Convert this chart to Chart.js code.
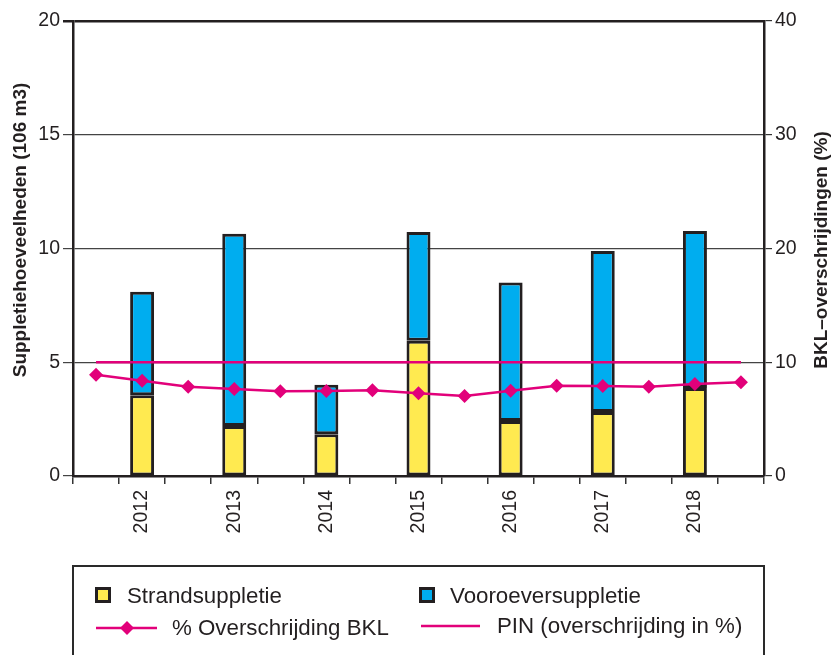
<!DOCTYPE html>
<html>
<head>
<meta charset="utf-8">
<script src="https://cdn.jsdelivr.net/npm/chart.js@4/dist/chart.umd.min.js"></script>
<style>
html,body{margin:0;padding:0;background:#fff;}
#wrap{position:relative;width:835px;height:655px;overflow:hidden;}
#c{position:absolute;left:0;top:0;}
#legend{position:absolute;left:72px;top:565px;width:689px;height:140px;border:2px solid #2a2a2a;
  font-family:"Liberation Sans",Arial,sans-serif;font-size:22.3px;color:#231f20;}
#legend .t{position:absolute;line-height:24px;white-space:nowrap;}
#legend svg{position:absolute;overflow:visible;}
</style>
</head>
<body>
<div id="wrap">
  <canvas id="c" width="835" height="655"></canvas>
  <div id="legend">
    <svg style="left:21px;top:20px" width="16" height="16"><rect x="1.5" y="1.5" width="13" height="13" fill="#FFEA50" stroke="#231f20" stroke-width="3"/></svg>
    <span class="t" style="left:53px;top:17px">Strandsuppletie</span>
    <svg style="left:345px;top:20px" width="16" height="16"><rect x="1.5" y="1.5" width="13" height="13" fill="#00ADEF" stroke="#231f20" stroke-width="3"/></svg>
    <span class="t" style="left:376px;top:17px">Vooroeversuppletie</span>
    <svg style="left:22px;top:52px" width="62" height="18"><line x1="0" y1="9" x2="61" y2="9" stroke="#E2007A" stroke-width="2.5"/><polygon points="31,2 38,9 31,16 24,9" fill="#E2007A"/></svg>
    <span class="t" style="left:98px;top:49px">% Overschrijding BKL</span>
    <svg style="left:347px;top:50px" width="60" height="18"><line x1="0" y1="9" x2="59" y2="9" stroke="#E2007A" stroke-width="2.5"/></svg>
    <span class="t" style="left:423px;top:47px">PIN (overschrijding in %)</span>
  </div>
</div>
<script>
// ---- data ----
const categories = ['', '2012', '', '2013', '', '2014', '', '2015', '', '2016', '', '2017', '', '2018', ''];
const strandValues = [null, 3.55, null, 2.2, null, 1.83, null, 5.95, null, 2.42, null, 2.81, null, 3.87, null];
const vooroeverValues = [null, 4.55, null, 8.45, null, 2.18, null, 4.77, null, 6.09, null, 7.08, null, 6.9, null];
const bklValues = [8.9, 8.38, 7.85, 7.65, 7.44, 7.47, 7.53, 7.27, 7.03, 7.5, 7.94, 7.91, 7.85, 8.09, 8.24];
const pinValues = [10, 10, 10, 10, 10, 10, 10, 10, 10, 10, 10, 10, 10, 10, 10];
const leftTicks = [0, 5, 10, 15, 20];
const rightTicks = [0, 10, 20, 30, 40];
const leftTitle = 'Suppletiehoeveelheden (106 m3)';
const rightTitle = 'BKL\u2013overschrijdingen (%)';

const FONT = '"Liberation Sans", Arial, sans-serif';
const INK = '#231f20';
const MAGENTA = '#E2007A';
Chart.defaults.font.family = FONT;
Chart.defaults.color = INK;

const titlePlugin = {
  id: 'axisTitles',
  afterDraw(chart) {
    const ctx = chart.ctx;
    ctx.save();
    ctx.font = 'bold 19px ' + FONT;
    ctx.fillStyle = INK;
    ctx.textAlign = 'center';
    ctx.textBaseline = 'middle';
    ctx.translate(21, 230);
    ctx.rotate(-Math.PI / 2);
    ctx.fillText(leftTitle, 0, 0);
    ctx.restore();
    ctx.save();
    ctx.font = 'bold 19px ' + FONT;
    ctx.fillStyle = INK;
    ctx.textAlign = 'center';
    ctx.textBaseline = 'middle';
    ctx.translate(822, 250);
    ctx.rotate(-Math.PI / 2);
    ctx.fillText(rightTitle, 0, 0);
    ctx.restore();
  }
};

new Chart(document.getElementById('c'), {
  type: 'bar',
  data: {
    labels: categories,
    datasets: [
      {
        type: 'line', label: '% Overschrijding BKL', data: bklValues, yAxisID: 'y1', order: 0,
        borderColor: MAGENTA, borderWidth: 2.5, backgroundColor: MAGENTA,
        pointStyle: 'rectRot', pointRadius: 7, pointBorderWidth: 0, pointBackgroundColor: MAGENTA,
        tension: 0, fill: false
      },
      {
        type: 'line', label: 'PIN (overschrijding in %)', data: pinValues, yAxisID: 'y1', order: 1,
        borderColor: MAGENTA, borderWidth: 2.5, pointRadius: 0, tension: 0, fill: false
      },
      {
        label: 'Strandsuppletie', data: strandValues, yAxisID: 'y', order: 2, stack: 's',
        backgroundColor: '#FFEA50', borderColor: INK, borderWidth: 3, borderSkipped: false,
        barPercentage: 0.52, categoryPercentage: 1
      },
      {
        label: 'Vooroeversuppletie', data: vooroeverValues, yAxisID: 'y', order: 2, stack: 's',
        backgroundColor: '#00ADEF', borderColor: INK, borderWidth: 3, borderSkipped: false,
        barPercentage: 0.52, categoryPercentage: 1
      }
    ]
  },
  options: {
    responsive: false,
    animation: false,
    layout: { padding: { top: 21, bottom: 95, left: 0, right: 0 } },
    plugins: { legend: { display: false }, tooltip: { enabled: false } },
    scales: {
      x: {
        stacked: true,
        offset: true,
        grid: { drawOnChartArea: false, offset: true, tickLength: 8, color: '#333', lineWidth: 1.5 },
        border: { display: true, color: INK, width: 2.5 },
        ticks: { autoSkip: false, minRotation: 90, maxRotation: 90, padding: 6,
          font: { size: 19.5 }, color: INK },
        afterFit(s) { s.height = 84; }
      },
      y: {
        position: 'left', stacked: true, min: 0, max: 20,
        afterBuildTicks(s) { s.ticks = leftTicks.map(v => ({ value: v })); },
        ticks: { padding: 3, font: { size: 19.5 }, color: INK },
        grid: {
          tickLength: 10,
          color: c => (c.tick && c.tick.value === 20) ? INK : '#444',
          lineWidth: c => (c.tick && c.tick.value === 20) ? 2.5 : 1.2
        },
        border: { color: INK, width: 2.5 },
        afterFit(s) { s.width = 73; }
      },
      y1: {
        position: 'right', min: 0, max: 40,
        afterBuildTicks(s) { s.ticks = rightTicks.map(v => ({ value: v })); },
        ticks: { padding: 3, font: { size: 19.5 }, color: INK },
        grid: { drawOnChartArea: false, tickLength: 8, color: '#333', lineWidth: 1.2 },
        border: { color: INK, width: 2.5 },
        afterFit(s) { s.width = 71; }
      }
    }
  },
  plugins: [titlePlugin]
});
</script>
</body>
</html>
